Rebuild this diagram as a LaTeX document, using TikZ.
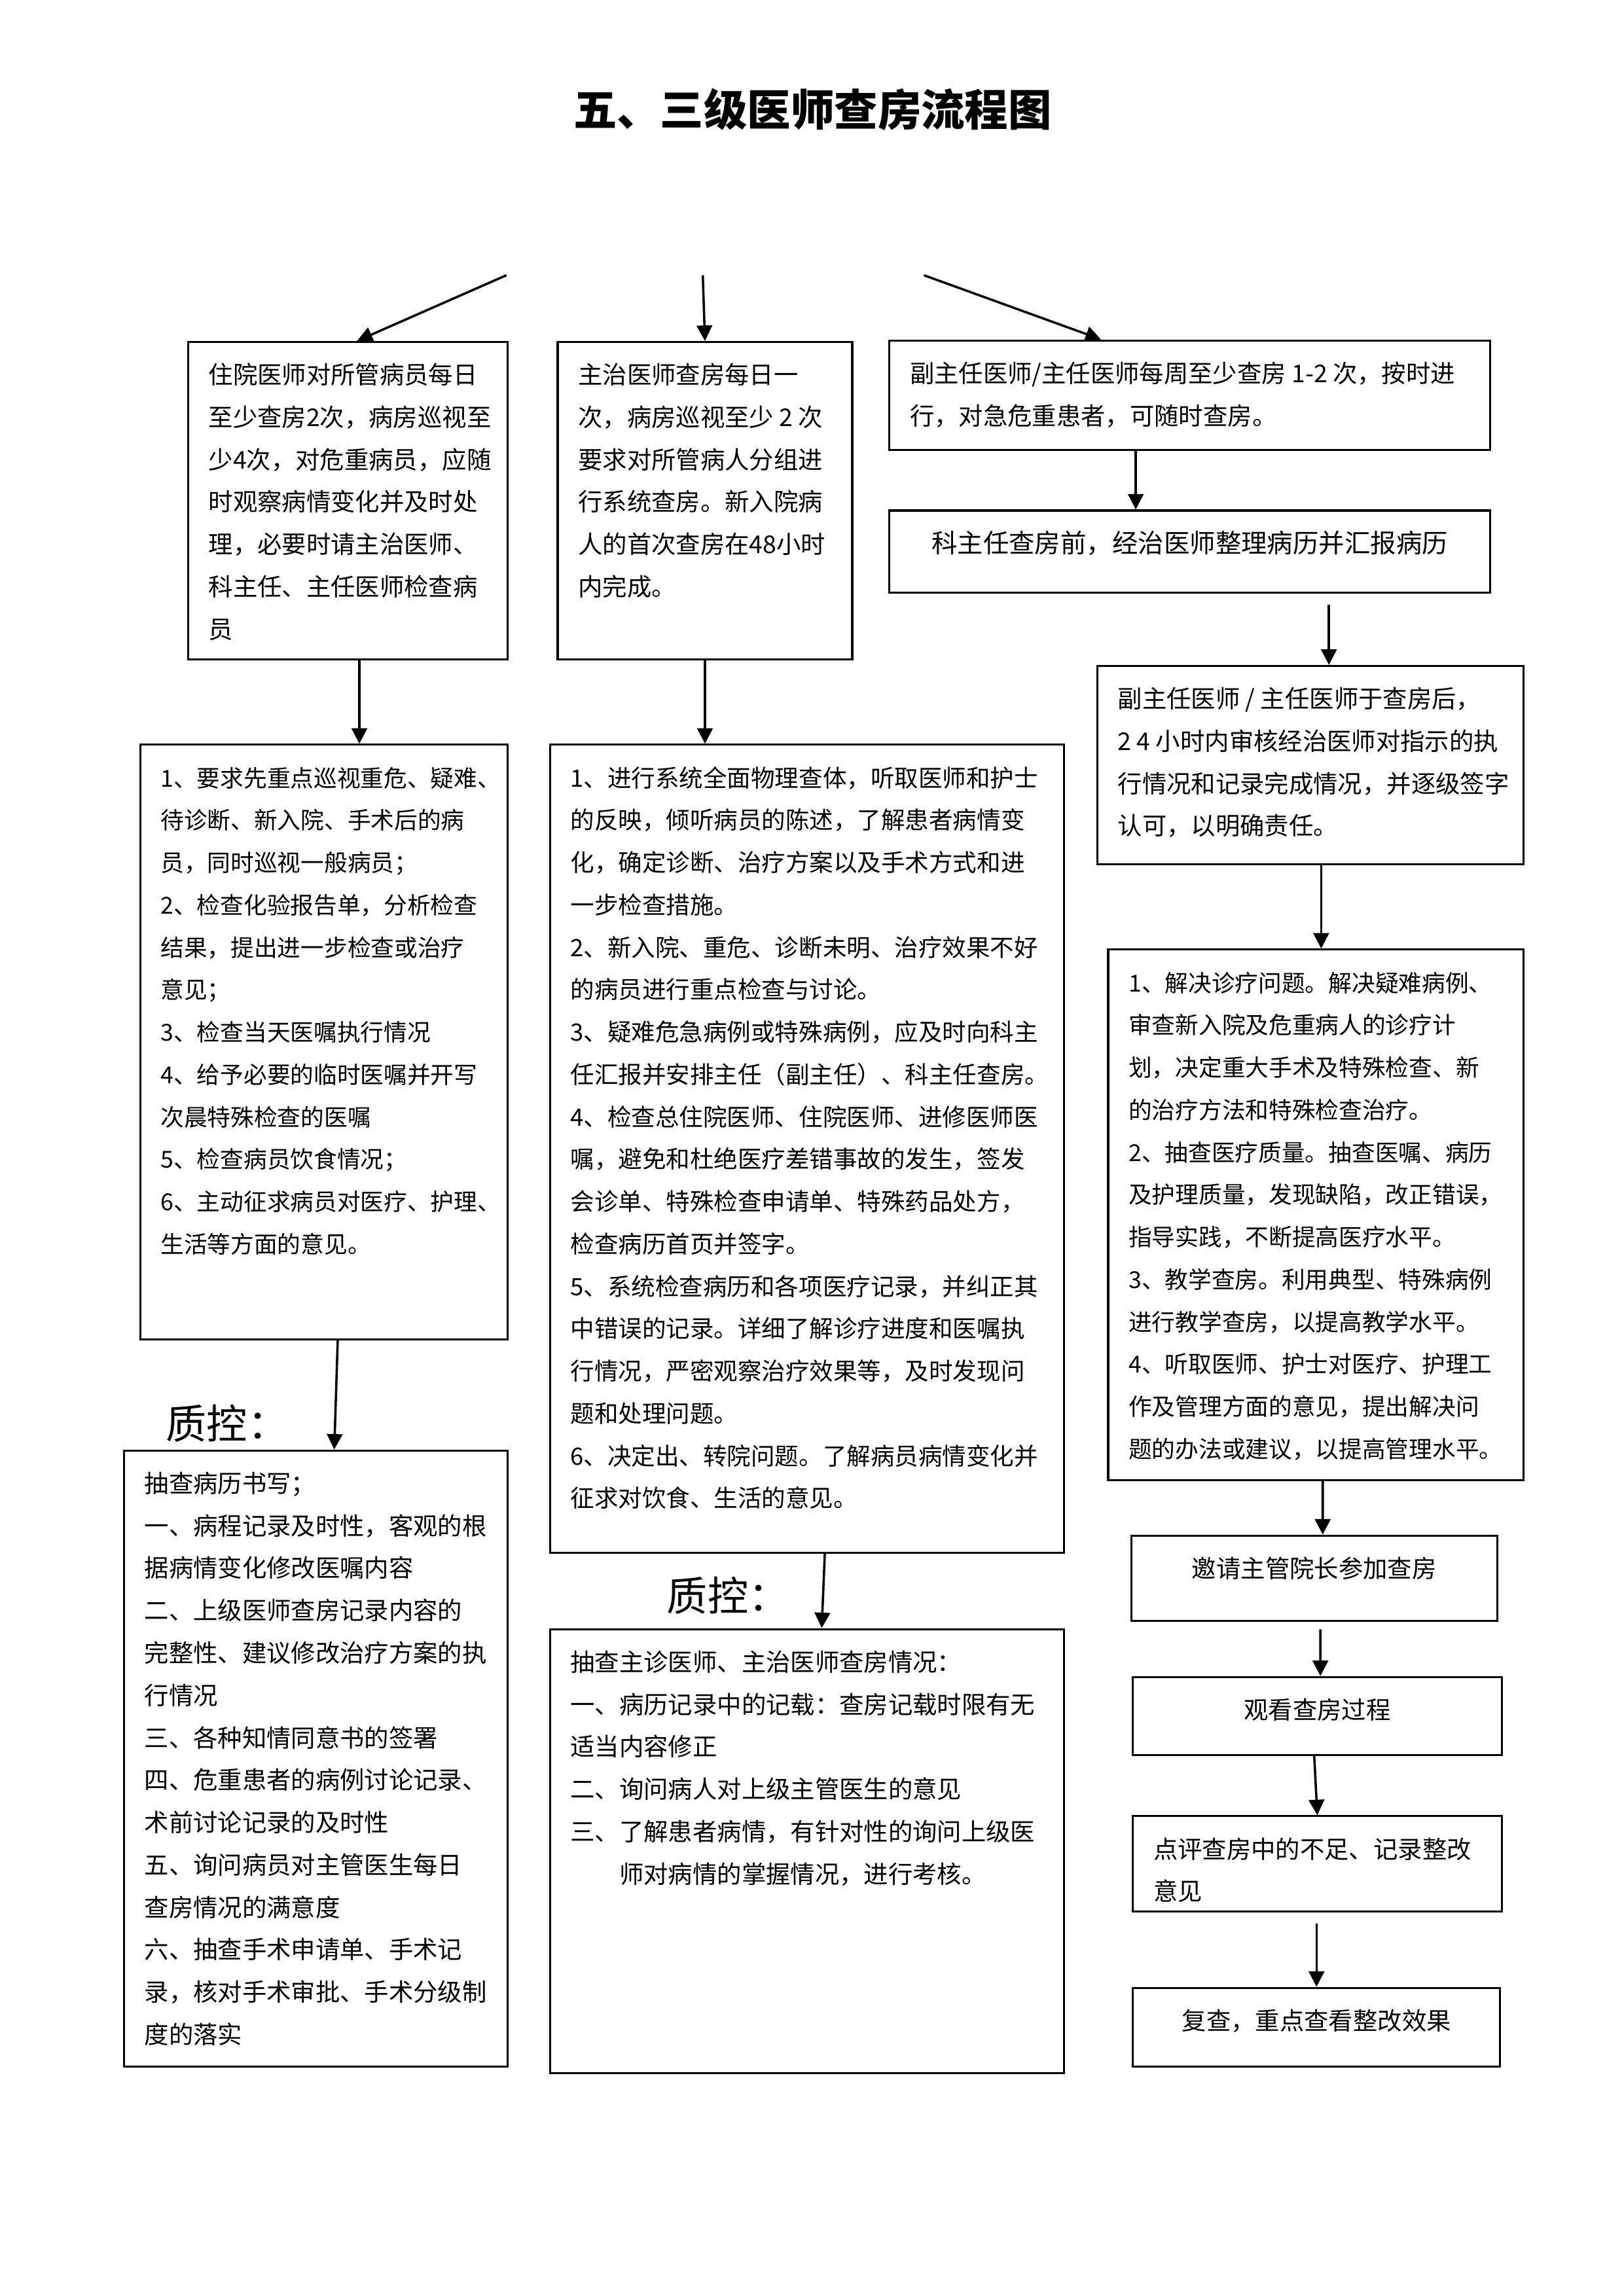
\documentclass[tikz,border=0pt]{standalone}
\usepackage{fontspec}
\setmainfont{Noto Sans CJK SC}
\usetikzlibrary{arrows.meta, calc}

% fixed-size box content, text set from the top
\newcommand\boxtext[3]{\parbox[c][\dimexpr#2-3.2mm\relax][t]{\dimexpr#1-5.3mm\relax}{\raggedright\strut#3}}

\begin{document}
\begin{tikzpicture}[x=1mm, y=-1mm,
          box/.style={draw, line width=0.75pt, anchor=north west, inner xsep=2.65mm, inner ysep=1.6mm,
                      font=\fontsize{9pt}{15.6pt}\selectfont},
          small/.style={font=\fontsize{8.6pt}{15.6pt}\selectfont},
          qc/.style={anchor=west, inner sep=0pt, font=\fontsize{15pt}{18pt}\selectfont},
          arr/.style={-{Triangle[length=2mm, width=2mm]}, line width=0.85pt}]
  \useasboundingbox (0,0) rectangle (210,297);

  \node[font=\fontsize{16pt}{20pt}\selectfont\bfseries] (title) at (105.1,14.2) {五、三级医师查房流程图};

  % upper row
  \node[box] (b1) at (24.2,44.1) {\boxtext{41.3mm}{41.1mm}{住院医师对所管病员每日\\至少查房2次，病房巡视至\\少4次，对危重病员，应随\\时观察病情变化并及时处\\理，必要时请主治医师、\\科主任、主任医师检查病\\员}};
  \node[box] (b2) at (72.0,44.1) {\boxtext{38.1mm}{41.1mm}{主治医师查房每日一\\次，病房巡视至少~2~次\\要求对所管病人分组进\\行系统查房。新入院病\\人的首次查房在48小时\\内完成。}};
  \node[box] (b3) at (114.9,43.9) {\boxtext{77.7mm}{14.2mm}{副主任医师/主任医师每周至少查房~1-2~次，按时进\\行，对急危重患者，可随时查房。}};
  \node[box, font=\fontsize{9.5pt}{15.6pt}\selectfont] (b4) at (114.9,65.9) {\boxtext{77.7mm}{10.6mm}{\centering 科主任查房前，经治医师整理病历并汇报病历}};
  \node[box] (b5) at (141.8,86.0) {\boxtext{55.1mm}{25.7mm}{副主任医师~/~主任医师于查房后，\\2~4~小时内审核经治医师对指示的执\\行情况和记录完成情况，并逐级签字\\认可，以明确责任。}};

  % middle row
  \node[box, small] (l2) at (18.0,96.2) {\boxtext{47.5mm}{76.9mm}{1、要求先重点巡视重危、疑难、\\待诊断、新入院、手术后的病\\员，同时巡视一般病员；\\2、检查化验报告单，分析检查\\结果，提出进一步检查或治疗\\意见；\\3、检查当天医嘱执行情况\\4、给予必要的临时医嘱并开写\\次晨特殊检查的医嘱\\5、检查病员饮食情况；\\6、主动征求病员对医疗、护理、\\生活等方面的意见。}};
  \node[box, font=\fontsize{8.8pt}{15.6pt}\selectfont] (m2) at (71.0,96.2) {\boxtext{66.5mm}{104.5mm}{1、进行系统全面物理查体，听取医师和护士\\的反映，倾听病员的陈述，了解患者病情变\\化，确定诊断、治疗方案以及手术方式和进\\一步检查措施。\\2、新入院、重危、诊断未明、治疗效果不好\\的病员进行重点检查与讨论。\\3、疑难危急病例或特殊病例，应及时向科主\\任汇报并安排主任（副主任）、科主任查房。\\4、检查总住院医师、住院医师、进修医师医\\嘱，避免和杜绝医疗差错事故的发生，签发\\会诊单、特殊检查申请单、特殊药品处方，\\检查病历首页并签字。\\5、系统检查病历和各项医疗记录，并纠正其\\中错误的记录。详细了解诊疗进度和医嘱执\\行情况，严密观察治疗效果等，及时发现问\\题和处理问题。\\6、决定出、转院问题。了解病员病情变化并\\征求对饮食、生活的意见。}};
  \node[box, small] (r3) at (143.2,122.7) {\boxtext{53.7mm}{68.6mm}{1、解决诊疗问题。解决疑难病例、\\审查新入院及危重病人的诊疗计\\划，决定重大手术及特殊检查、新\\的治疗方法和特殊检查治疗。\\2、抽查医疗质量。抽查医嘱、病历\\及护理质量，发现缺陷，改正错误，\\指导实践，不断提高医疗水平。\\3、教学查房。利用典型、特殊病例\\进行教学查房，以提高教学水平。\\4、听取医师、护士对医疗、护理工\\作及管理方面的意见，提出解决问\\题的办法或建议，以提高管理水平。}};

  % quality control
  \node[qc] (qcl) at (21.4,184.1) {质控：};
  \node[qc] (qcm) at (86.2,206.4) {质控：};
  \node[box] (l3) at (15.9,187.5) {\boxtext{49.6mm}{79.7mm}{抽查病历书写；\\一、病程记录及时性，客观的根\\据病情变化修改医嘱内容\\二、上级医师查房记录内容的\\完整性、建议修改治疗方案的执\\行情况\\三、各种知情同意书的签署\\四、危重患者的病例讨论记录、\\术前讨论记录的及时性\\五、询问病员对主管医生每日\\查房情况的满意度\\六、抽查手术申请单、手术记\\录，核对手术审批、手术分级制\\度的落实}};
  \node[box] (m3) at (71.0,210.6) {\boxtext{66.5mm}{57.4mm}{抽查主诊医师、主治医师查房情况：\\一、病历记录中的记载：查房记载时限有无\\适当内容修正\\二、询问病人对上级主管医生的意见\\三、了解患者病情，有针对性的询问上级医\\\hspace*{2em}师对病情的掌握情况，进行考核。}};
  \node[box] (r4) at (146.2,198.5) {\boxtext{47.3mm}{11.0mm}{\centering 邀请主管院长参加查房}};
  \node[box] (r5) at (146.4,216.8) {\boxtext{47.7mm}{10.1mm}{\centering 观看查房过程}};
  \node[box] (r6) at (146.4,234.8) {\boxtext{47.7mm}{12.3mm}{点评查房中的不足、记录整改\\意见}};
  \node[box] (r7) at (146.4,257.0) {\boxtext{47.5mm}{10.2mm}{\centering 复查，重点查看整改效果}};

  % arrows
  \coordinate (tl) at (65.5,35.6);
  \coordinate (tm) at (90.9,35.6);
  \coordinate (tr) at (119.5,35.6);
  \draw[arr] (tl) -- ($(b1.north)+(1.2,0)$);
  \draw[arr] (tm) -- (b2.north);
  \draw[arr] (tr) -- ($(b3.north west)+(27.5,0)$);
  \draw[arr] ($(b1.south)+(1.5,0)$) -- ($(b1.south |- l2.north)+(1.5,0)$);
  \draw[arr] (b2.south) -- (b2.south |- m2.north);
  \draw[arr] ($(b3.south west)+(32,0)$) -- ($(b4.north west)+(32,0)$);
  \draw[arr] ($(b4.south -| b5.north)+(2.4,1.5)$) -- ($(b5.north)+(2.4,0)$);
  \draw[arr] ($(b5.south)+(1.4,0)$) -- ($(b5.south |- r3.north)+(1.4,0)$);
  \draw[arr] ($(l2.south)+(1.8,0)$) -- ($(l3.north)+(2.4,0)$);
  \draw[arr] ($(m2.south)+(2.3,0)$) -- ($(m3.north)+(1.9,0)$);
  \draw[arr] ($(r3.south)+(0.9,0)$) -- ($(r4.north)+(1.1,0)$);
  \draw[arr] ($(r4.south)+(0.8,1)$) -- ($(r5.north)+(0.4,0)$);
  \draw[arr] ($(r5.south)+(-0.4,0)$) -- ($(r6.north)+(0,0)$);
  \draw[arr] ($(r6.south)+(-0.1,1.5)$) -- ($(r7.north)+(0,0)$);
\end{tikzpicture}
\end{document}
